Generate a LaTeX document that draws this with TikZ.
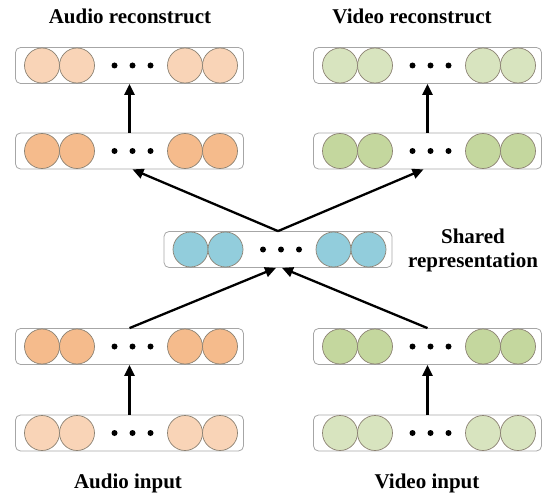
\documentclass[tikz,border=0pt]{standalone}
\usepackage{fontspec}
\setmainfont{Liberation Serif}
\usetikzlibrary{arrows.meta}
\definecolor{orLight}{HTML}{F9D4B7}
\definecolor{orDark}{HTML}{F5BB8C}
\definecolor{grLight}{HTML}{D8E4BF}
\definecolor{grDark}{HTML}{C4D79E}
\definecolor{blShared}{HTML}{92CDDC}
\definecolor{boxgray}{HTML}{A6A6A6}
\definecolor{unitgray}{HTML}{8C8273}
\tikzset{
  layer/.style={draw=boxgray, rounded corners=5pt, minimum width=228pt, minimum height=36pt, line width=0.8pt, inner sep=0pt},
  unit/.style={circle, draw=unitgray, line width=0.7pt, minimum size=35pt, inner sep=0pt},
  dotn/.style={circle, fill=black, minimum size=6pt, inner sep=0pt},
  conn/.style={-{Triangle[length=11pt,width=10pt]}, line width=2.3pt},
  lbl/.style={font=\bfseries\fontsize{21}{24}\selectfont, inner sep=0pt, align=center}
}
\newcommand\nnlayer[4]{%
  \node[layer] (#1) at (#2,#3) {};
  \foreach \dx/\k in {-87.5/1,-52.5/2,55.5/3,90.5/4}
    \node[unit, fill=#4] (#1-c\k) at ([xshift=\dx pt]#1.center) {};
  \foreach \dx/\k in {-15/1,3/2,21/3}
    \node[dotn] (#1-d\k) at ([xshift=\dx pt]#1.center) {};
}
\begin{document}
\begin{tikzpicture}[x=1pt,y=-1pt]
\useasboundingbox (0,0) rectangle (554,500);
% layers
\nnlayer{ain}{129.5}{433}{orLight}
\nnlayer{ahid}{129.5}{346.5}{orDark}
\nnlayer{vin}{427.5}{433}{grLight}
\nnlayer{vhid}{427.5}{346.5}{grDark}
\nnlayer{sh}{278}{249.5}{blShared}
\nnlayer{ahid2}{129.5}{151}{orDark}
\nnlayer{arec}{129.5}{65.5}{orLight}
\nnlayer{vhid2}{427.5}{151}{grDark}
\nnlayer{vrec}{427.5}{65.5}{grLight}
% connectors
\draw[conn] (ain.north) -- (ahid.south);
\draw[conn] (vin.north) -- (vhid.south);
\draw[conn] (ahid.north) -- ([xshift=-2pt]sh.south);
\draw[conn] (vhid.north) -- ([xshift=4pt]sh.south);
\draw[conn] (sh.north) -- ([xshift=3pt]ahid2.south);
\draw[conn] (sh.north) -- ([xshift=-4pt]vhid2.south);
\draw[conn] (ahid2.north) -- (arec.south);
\draw[conn] (vhid2.north) -- (vrec.south);
% labels
\node[lbl, anchor=base] (tar) at (130,24) {Audio reconstruct};
\node[lbl, anchor=base] (tvr) at (412,24) {Video reconstruct};
\node[lbl, anchor=base] (tai) at (128,488) {Audio input};
\node[lbl, anchor=base] (tvi) at (427,488) {Video input};
\node[lbl, anchor=center] (tsh) at (473,250) {Shared\\representation};
\end{tikzpicture}
\end{document}
